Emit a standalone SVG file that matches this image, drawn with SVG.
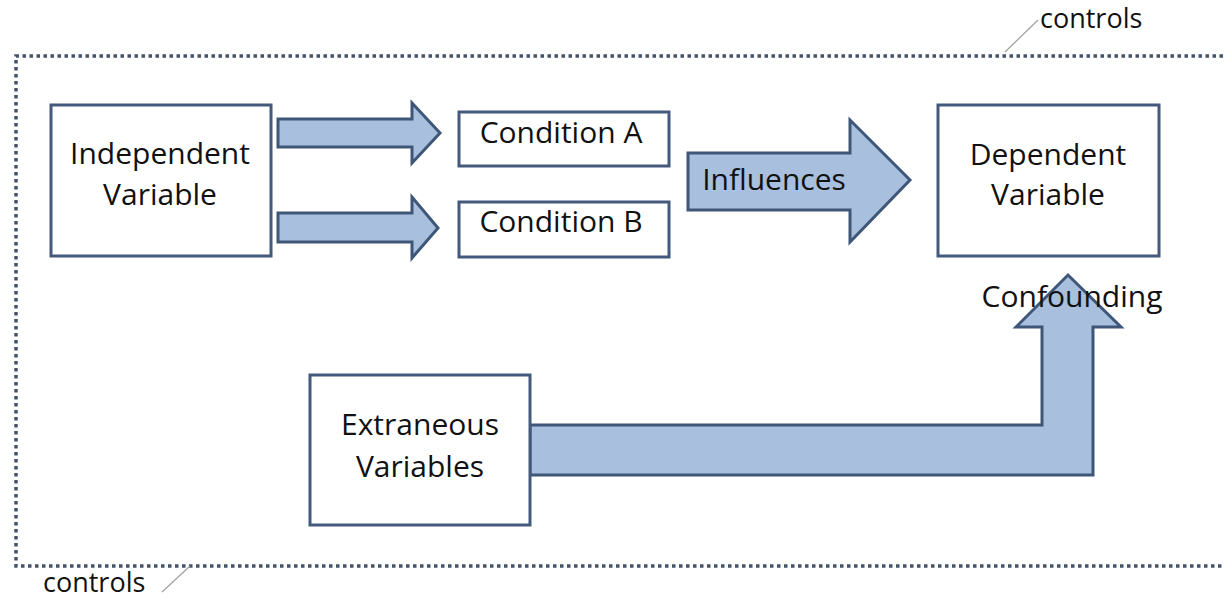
<svg xmlns="http://www.w3.org/2000/svg" width="1224" height="602" viewBox="0 0 1224 602">
<style>
  .box{fill:#ffffff;stroke:#435a7c;stroke-width:3}
  .arr{fill:#a8bfdd;stroke:#3e5677;stroke-width:3;stroke-linejoin:miter}
  .t{font-family:"Open Sans","Liberation Sans",sans-serif;font-size:30px;fill:#111;text-anchor:middle}
  .c{font-family:"Open Sans","Liberation Sans",sans-serif;font-size:27px;fill:#111}
  .leader{stroke:#a0a0a0;stroke-width:1.2;fill:none}
</style>
<rect width="1224" height="602" fill="#ffffff"/>
<g id="controls-border">
  <path d="M1230,56 H16 V566 H1230" fill="none" stroke="#44536a" stroke-width="3.5" stroke-dasharray="3.5 3.5"/>
  <line class="leader" x1="1005" y1="52" x2="1038" y2="20"/>
  <text class="c" x="1040" y="28">controls</text>
  <line class="leader" x1="190" y1="566" x2="162" y2="592"/>
  <text class="c" x="43" y="592">controls</text>
</g>
<g id="connectors">
  <polygon class="arr" points="278,119 412,119 412,103 440,133 412,163 412,147 278,147"/>
  <polygon class="arr" points="278,213 412,213 412,197 438,228 412,258 412,242 278,242"/>
  <polygon class="arr" points="688,153 850,153 850,120 910,180 850,242 850,210 688,210"/>
  <polygon class="arr" points="530,425 1042,425 1042,327 1016,327 1068,275 1121,327 1093,327 1093,475 530,475"/>
  <text class="t" x="774" y="190">Influences</text>
  <text class="t" x="1072" y="307">Confounding</text>
</g>
<g id="independent">
  <rect class="box" x="51" y="105" width="220" height="151"/>
  <text class="t" x="160" y="164">Independent</text>
  <text class="t" x="160" y="205">Variable</text>
</g>
<g id="conditionA">
  <rect class="box" x="459" y="112" width="210" height="54"/>
  <text class="t" x="561" y="143">Condition A</text>
</g>
<g id="conditionB">
  <rect class="box" x="459" y="202" width="210" height="55"/>
  <text class="t" x="561" y="232">Condition B</text>
</g>
<g id="dependent">
  <rect class="box" x="938" y="105" width="221" height="151"/>
  <text class="t" x="1048" y="165">Dependent</text>
  <text class="t" x="1048" y="205">Variable</text>
</g>
<g id="extraneous">
  <rect class="box" x="310" y="375" width="220" height="150"/>
  <text class="t" x="420" y="435">Extraneous</text>
  <text class="t" x="420" y="477">Variables</text>
</g>
</svg>
